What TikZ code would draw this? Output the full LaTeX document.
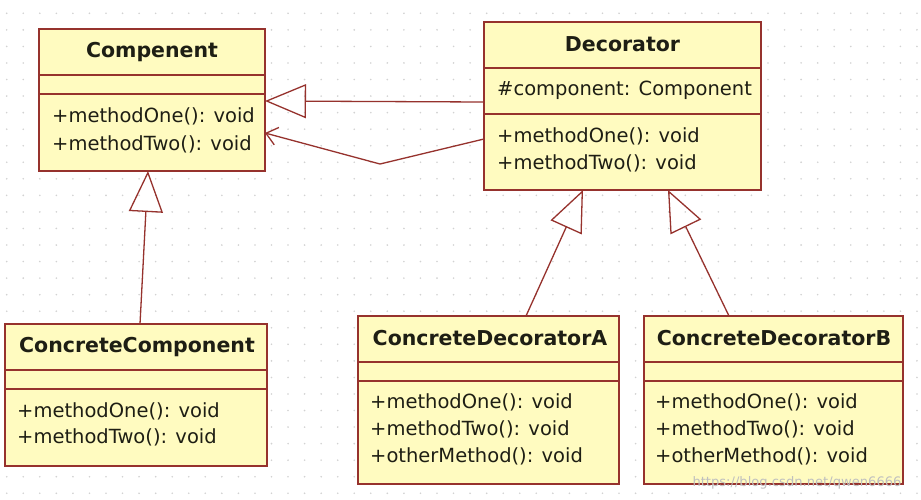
\documentclass[tikz,border=0pt]{standalone}
\usepackage{fontspec}
\setmainfont{DejaVu Sans}
\usetikzlibrary{arrows.meta}
\definecolor{umlborder}{RGB}{150,50,45}
\definecolor{umlfill}{RGB}{255,251,192}
\definecolor{umltext}{RGB}{30,30,20}
\definecolor{dotc}{RGB}{210,210,210}
\tikzset{
  cls/.style={draw=umlborder, fill=umlfill, line width=1.6pt, inner sep=0pt, outer sep=0pt, rectangle},
  divider/.style={draw=umlborder, line width=1.6pt},
  title/.style={font=\fontsize{20.5}{24}\selectfont\bfseries, text=umltext, inner sep=0pt},
  meth/.style={font=\fontsize{19.5}{23}\selectfont, text=umltext, anchor=west, inner sep=0pt, text height=15pt, text depth=4pt},
  gen/.style={draw=umlborder, line width=1.3pt, -{Triangle[open, length=41pt, width=34pt]}},
  assoc/.style={draw=umlborder, line width=1.3pt, -{Straight Barb[length=11pt, width=18pt]}},
}
\begin{document}
\begin{tikzpicture}[x=1pt,y=-1pt]
\useasboundingbox (0,0) rectangle (921,499);
\fill[white] (0,0) rectangle (921,499);
% dotted grid
\foreach \i in {0,...,55} {
  \foreach \j in {0,...,29} {
    \fill[dotc] ({6.7+16.55*\i},{13.3+16.55*\j}) circle (0.9pt);
  }
}
% Compenent
\node[cls, minimum width=226pt, minimum height=142pt] (comp) at (152,100) {};
\draw[divider] (comp.west |- 0,75) -- (comp.east |- 0,75);
\draw[divider] (comp.west |- 0,94) -- (comp.east |- 0,94);
\node[title] (compT) at (152,52) {Compenent};
\node[meth] (compM1) at (52,117) {+methodOne(): void};
\node[meth] (compM2) at (52,145) {+methodTwo(): void};
% Decorator
\node[cls, minimum width=277pt, minimum height=168pt] (dec) at (622.5,106) {};
\draw[divider] (dec.west |- 0,68) -- (dec.east |- 0,68);
\draw[divider] (dec.west |- 0,114) -- (dec.east |- 0,114);
\node[title] (decT) at (622.5,44) {Decorator};
\node[meth] (decA) at (497,90) {\#component: Component};
\node[meth] (decM1) at (497,137) {+methodOne(): void};
\node[meth] (decM2) at (497,164) {+methodTwo(): void};
% ConcreteComponent
\node[cls, minimum width=262pt, minimum height=142pt] (cc) at (136,395) {};
\draw[divider] (cc.west |- 0,370) -- (cc.east |- 0,370);
\draw[divider] (cc.west |- 0,389) -- (cc.east |- 0,389);
\node[title] (ccT) at (137,347) {ConcreteComponent};
\node[meth] (ccM1) at (17,412) {+methodOne(): void};
\node[meth] (ccM2) at (17,438) {+methodTwo(): void};
% ConcreteDecoratorA
\node[cls, minimum width=261pt, minimum height=168pt] (ca) at (488.5,400) {};
\draw[divider] (ca.west |- 0,362) -- (ca.east |- 0,362);
\draw[divider] (ca.west |- 0,381) -- (ca.east |- 0,381);
\node[title] (caT) at (490,338) {ConcreteDecoratorA};
\node[meth] (caM1) at (370,403) {+methodOne(): void};
\node[meth] (caM2) at (370,430) {+methodTwo(): void};
\node[meth] (caM3) at (370,457) {+otherMethod(): void};
% ConcreteDecoratorB
\node[cls, minimum width=259pt, minimum height=168pt] (cb) at (773.5,400) {};
\draw[divider] (cb.west |- 0,362) -- (cb.east |- 0,362);
\draw[divider] (cb.west |- 0,381) -- (cb.east |- 0,381);
\node[title] (cbT) at (774,338) {ConcreteDecoratorB};
\node[meth] (cbM1) at (655,403) {+methodOne(): void};
\node[meth] (cbM2) at (655,430) {+methodTwo(): void};
\node[meth] (cbM3) at (655,457) {+otherMethod(): void};
% connectors
\draw[gen] (dec.west |- 0,102) -- (comp.east |- 0,101);
\coordinate (bend) at (380,164);
\draw[assoc] (dec.west |- 0,139) -- (bend) -- (comp.east |- 0,133);
\draw[gen] (cc.north -| 140,0) -- (comp.south -| 148,0);
\draw[gen] (ca.north -| 526,0) -- (dec.south -| 583,0);
\draw[gen] (cb.north -| 729,0) -- (dec.south -| 668,0);
% watermark
\node[text=black!25, inner sep=0pt] (wm) at (797,483) {\resizebox{209pt}{!}{https://blog.csdn.net/qwen6666}};
\end{tikzpicture}
\end{document}
